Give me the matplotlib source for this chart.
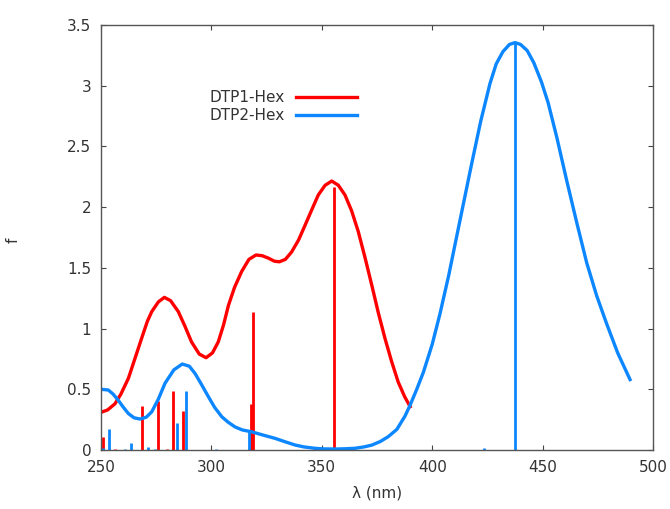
import matplotlib
matplotlib.use("Agg")
import matplotlib.pyplot as plt

# Broadened spectra
red_x = [250, 253, 256.3, 259, 262.4, 265.5, 268.4, 271, 273, 276, 278.7, 281.5, 285, 288, 291, 294.5,
         297.6, 300.5, 303.1, 305.5, 307.7, 310.5, 313.7, 317, 320.2, 323, 325.8, 328.5, 330.8, 333.5,
         336.3, 339.5, 342.4, 345.5, 348.4, 351.5, 354.5, 357.5, 360.5, 363.5, 366.5, 369.5, 372.6,
         375.6, 378.6, 381.6, 384.6, 387.5, 390]
red_y = [0.31, 0.33, 0.38, 0.46, 0.59, 0.76, 0.92, 1.06, 1.14, 1.22, 1.257, 1.23, 1.14, 1.02, 0.89, 0.79,
         0.76, 0.80, 0.89, 1.03, 1.19, 1.34, 1.47, 1.57, 1.606, 1.60, 1.58, 1.555, 1.55, 1.57,
         1.63, 1.73, 1.85, 1.98, 2.10, 2.18, 2.215, 2.18, 2.10, 1.97, 1.80, 1.59, 1.36,
         1.13, 0.92, 0.73, 0.56, 0.44, 0.357]

blue_x = [250, 253.3, 255.5, 257.8, 260, 262.4, 265, 267.7, 270.5, 273, 276, 279, 283, 286.8, 290, 292.6,
          295.5, 298.6, 301.5, 304.7, 307.5, 310.7, 314, 318.2, 323, 328.8, 333, 337.9, 342, 346.9,
          351, 356, 360.5, 365, 369, 372.6, 376.5, 380.1, 384, 387.7, 390, 393, 396, 400, 403.5,
          407.5, 411.1, 414.5, 417.9, 422, 426.2, 429, 432, 435, 437.5, 440, 443, 446, 449.5, 452.5,
          456.5, 460.9, 465.5, 470, 474.5, 479, 484, 489.6]
blue_y = [0.50, 0.494, 0.46, 0.41, 0.355, 0.30, 0.265, 0.255, 0.27, 0.315, 0.42, 0.55, 0.66, 0.708, 0.69, 0.63,
          0.54, 0.44, 0.35, 0.274, 0.23, 0.19, 0.165, 0.15, 0.125, 0.096, 0.07, 0.041, 0.025, 0.014,
          0.009, 0.008, 0.01, 0.014, 0.025, 0.04, 0.07, 0.11, 0.17, 0.28, 0.37, 0.50, 0.64, 0.87, 1.12,
          1.44, 1.76, 2.06, 2.36, 2.71, 3.02, 3.18, 3.28, 3.34, 3.355, 3.34, 3.29, 3.19, 3.03, 2.86,
          2.57, 2.22, 1.87, 1.54, 1.27, 1.04, 0.80, 0.58]

# Oscillator strengths (sticks)
red_stick_x = [251.0, 256.3, 268.4, 275.7, 280.0, 282.5, 287.0, 317.8, 318.8, 346.5, 355.7]
red_stick_f = [0.105, 0.01, 0.36, 0.40, 0.01, 0.49, 0.32, 0.376, 1.14, 0.008, 2.17]
blue_stick_x = [251.0, 253.6, 260.9, 263.6, 271.4, 274.5, 284.3, 288.4, 302.1, 317.0, 357.0, 423.5, 437.5]
blue_stick_f = [0.02, 0.17, 0.01, 0.055, 0.027, 0.01, 0.225, 0.49, 0.01, 0.15, 0.006, 0.02, 3.355]

labels = ["DTP1-Hex", "DTP2-Hex"]
RED = "#ff0000"
BLUE = "#0c87ff"

fig = plt.figure(figsize=(6.7, 5.09), dpi=100)
ax = fig.add_axes([101/670, 59/509, 552/670, 425/509])

ax.vlines(red_stick_x, 0, red_stick_f, color=RED, lw=2.0)
ax.vlines(blue_stick_x, 0, blue_stick_f, color=BLUE, lw=2.0)
ax.plot(red_x, red_y, color=RED, lw=2.4, label=labels[0], solid_joinstyle="round")
ax.plot(blue_x, blue_y, color=BLUE, lw=2.4, label=labels[1], solid_joinstyle="round")

ax.set_xlim(250, 500)
ax.set_ylim(0, 3.5)
ax.set_xticks([250, 300, 350, 400, 450, 500])
ax.set_yticks([0, 0.5, 1, 1.5, 2, 2.5, 3, 3.5])
ax.set_yticklabels(["0", "0.5", "1", "1.5", "2", "2.5", "3", "3.5"])
ax.tick_params(direction="in", length=3.5, width=0.8, color="#444444", top=True, right=True,
               labelsize=11, labelcolor="#333333", pad=7)
for s in ax.spines.values():
    s.set_color("#555555")
    s.set_linewidth(1.0)

ax.set_xlabel("λ (nm)", fontsize=11, color="#333333", labelpad=8)
ax.set_ylabel("f", fontsize=11, color="#333333")
ax.yaxis.set_label_coords(-0.145, 0.494)

leg = ax.legend(loc="center", bbox_to_anchor=(0.33, 0.808), markerfirst=False, frameon=False,
                fontsize=11, handlelength=3.95, handletextpad=0.75, labelspacing=0.2)
for t in leg.get_texts():
    t.set_color("#333333")

fig.savefig("out.png", dpi=100)
